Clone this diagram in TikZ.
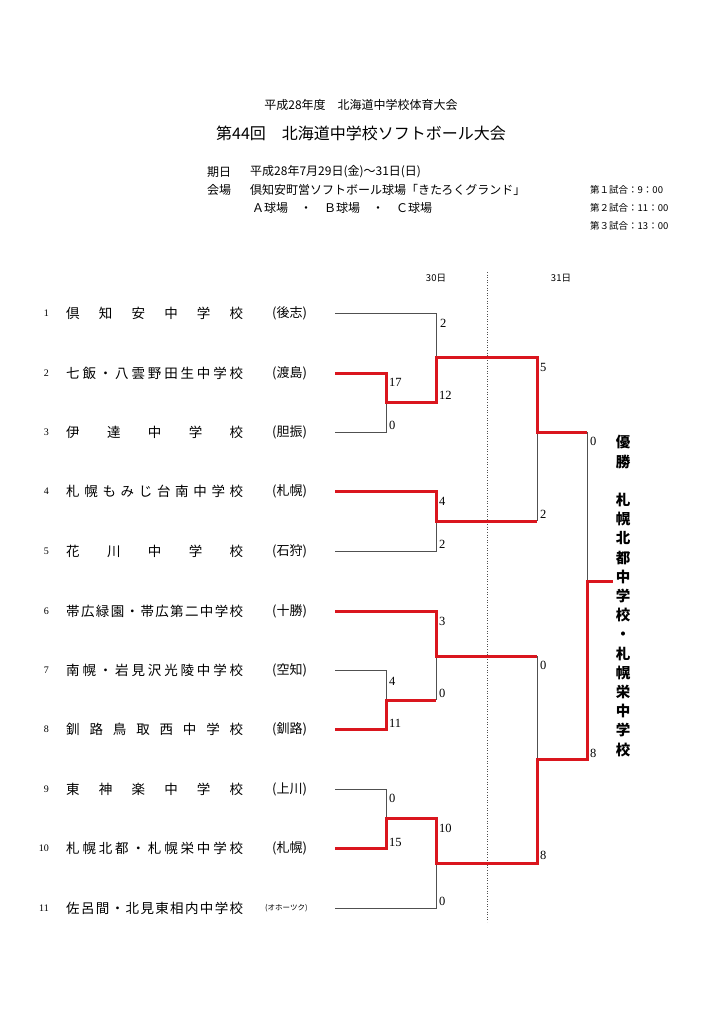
\documentclass[tikz,border=0pt]{standalone}
\usepackage{fontspec}
\newfontfamily\jp{Noto Sans CJK JP}
\newfontfamily\sr{Liberation Serif}
\definecolor{winred}{RGB}{218,22,30}
\definecolor{lgray}{RGB}{80,80,80}
\begin{document}
\begin{tikzpicture}[x=1pt,y=-1pt,
  gline/.style={draw=lgray,line width=0.9pt},
  rline/.style={draw=winred,line width=3pt},
  score/.style={anchor=west,inner sep=0pt,font=\sr\fontsize{12.5}{13}\selectfont},
  tname/.style={anchor=west,inner sep=0pt,font=\jp\fontsize{13.5}{14}\selectfont},
  treg/.style={anchor=west,inner sep=0pt,font=\jp\fontsize{13}{14}\selectfont},
  tnum/.style={anchor=east,inner sep=0pt,font=\sr\fontsize{10}{11}\selectfont},
  hdr/.style={anchor=west,inner sep=0pt,font=\jp\fontsize{12}{13}\selectfont},
  sched/.style={anchor=west,inner sep=0pt,font=\jp\fontsize{9.5}{10}\selectfont}]
\useasboundingbox[fill=white] (0,0) rectangle (724,1024);

% header
\node[inner sep=0pt,font=\jp\fontsize{12}{13}\selectfont] (h1) at (361,105) {平成28年度　北海道中学校体育大会};
\node[inner sep=0pt,font=\jp\fontsize{16}{17}\selectfont] (h2) at (361,133) {第44回　北海道中学校ソフトボール大会};
\node[hdr] (d1) at (207,172) {期日};
\node[hdr] (d2) at (250,172) {平成28年7月29日(金)～31日(日)};
\node[hdr] (v1) at (207,190) {会場};
\node[hdr] (v2) at (250,190) {倶知安町営ソフトボール球場「きたろくグランド」};
\node[hdr] (v3) at (252,208) {Ａ球場　・　Ｂ球場　・　Ｃ球場};
\node[sched] (g1) at (590,190) {第１試合：9：00};
\node[sched] (g2) at (590,208) {第２試合：11：00};
\node[sched] (g3) at (590,226) {第３試合：13：00};
\node[inner sep=0pt,font=\jp\fontsize{9.5}{10}\selectfont] (day30) at (436,278) {30日};
\node[inner sep=0pt,font=\jp\fontsize{9.5}{10}\selectfont] (day31) at (561,278) {31日};

% teams
\foreach \n/\y/\name/\reg in {
 1/313/{倶\hfill 知\hfill 安\hfill 中\hfill 学\hfill 校}/{(後志)},
 2/373/{七\hfill 飯\hfill ・\hfill 八\hfill 雲\hfill 野\hfill 田\hfill 生\hfill 中\hfill 学\hfill 校}/{(渡島)},
 3/432/{伊\hfill 達\hfill 中\hfill 学\hfill 校}/{(胆振)},
 4/491/{札\hfill 幌\hfill も\hfill み\hfill じ\hfill 台\hfill 南\hfill 中\hfill 学\hfill 校}/{(札幌)},
 5/551/{花\hfill 川\hfill 中\hfill 学\hfill 校}/{(石狩)},
 6/611/{帯\hfill 広\hfill 緑\hfill 園\hfill ・\hfill 帯\hfill 広\hfill 第\hfill 二\hfill 中\hfill 学\hfill 校}/{(十勝)},
 7/670/{南\hfill 幌\hfill ・\hfill 岩\hfill 見\hfill 沢\hfill 光\hfill 陵\hfill 中\hfill 学\hfill 校}/{(空知)},
 8/729/{釧\hfill 路\hfill 鳥\hfill 取\hfill 西\hfill 中\hfill 学\hfill 校}/{(釧路)},
 9/789/{東\hfill 神\hfill 楽\hfill 中\hfill 学\hfill 校}/{(上川)},
 10/848/{札\hfill 幌\hfill 北\hfill 都\hfill ・\hfill 札\hfill 幌\hfill 栄\hfill 中\hfill 学\hfill 校}/{(札幌)}}
{
  \node[tnum] (num\n) at (49,\y) {\n};
  \node[tname] (name\n) at (66,\y) {\makebox[177pt][s]{\name}};
  \node[treg] (reg\n) at (272,\y) {\reg};
  \coordinate (s\n) at (335,\y);
}
\node[tnum] (num11) at (49,908) {11};
\node[tname] (name11) at (66,908) {\makebox[177pt][s]{佐\hfill 呂\hfill 間\hfill ・\hfill 北\hfill 見\hfill 東\hfill 相\hfill 内\hfill 中\hfill 学\hfill 校}};
\node[anchor=west,inner sep=0pt,font=\jp\fontsize{7.5}{8}\selectfont] (reg11) at (265,908) {(オホーツク)};
\coordinate (s11) at (335,908);

% bracket points
\coordinate (e1) at (436,313);
\coordinate (e2) at (386,373);
\coordinate (e3) at (386,432);
\coordinate (e4) at (436,491);
\coordinate (e5) at (436,551);
\coordinate (e6) at (436,611);
\coordinate (e7) at (386,670);
\coordinate (e8) at (386,729);
\coordinate (e9) at (386,789);
\coordinate (e10) at (386,848);
\coordinate (e11) at (436,908);
\coordinate (j23) at (386,402);
\coordinate (j23b) at (436,402);
\coordinate (j123) at (436,357);
\coordinate (k1) at (537,357);
\coordinate (j45) at (436,521);
\coordinate (k2) at (537,521);
\coordinate (js1) at (537,432);
\coordinate (f1) at (587,432);
\coordinate (j78) at (386,700);
\coordinate (j78b) at (436,700);
\coordinate (j678) at (436,656);
\coordinate (k3) at (537,656);
\coordinate (j910) at (386,818);
\coordinate (j910b) at (436,818);
\coordinate (j91011) at (436,863);
\coordinate (k4) at (537,863);
\coordinate (js2) at (537,759);
\coordinate (f2) at (587,759);
\coordinate (jf) at (587,581);
\coordinate (win) at (613,581);
\coordinate (dt) at (487,272);
\coordinate (db) at (487,922);

\draw[lgray,line width=0.6pt,dotted] (dt) -- (db);

% losers / gray
\draw[gline] (s1) -- (e1) -- (j123);
\draw[gline] (s3) -- (e3) -- (j23);
\draw[gline] (s5) -- (e5) -- (j45);
\draw[gline] (js1) -- (k2);
\draw[gline] (f1) -- (jf);
\draw[gline] (s7) -- (e7) -- (j78);
\draw[gline] (j678) -- (j78b);
\draw[gline] (k3) -- (js2);
\draw[gline] (s9) -- (e9) -- (j910);
\draw[gline] (j91011) -- (e11) -- (s11);

% winners / red
\draw[rline] (s2) -- (e2) -- (j23) -- (j23b) -- (j123) -- (k1) -- (js1) -- (f1);
\draw[rline] (s4) -- (e4) -- (j45) -- (k2);
\draw[rline] (s6) -- (e6) -- (j678) -- (k3);
\draw[rline] (s8) -- (e8) -- (j78) -- (j78b);
\draw[rline] (s10) -- (e10) -- (j910) -- (j910b) -- (j91011) -- (k4) -- (js2) -- (f2) -- (jf) -- (win);

% scores
\node[score] (sc1) at (440,323) {2};
\node[score] (sc2) at (389,382) {17};
\node[score] (sc3) at (389,425) {0};
\node[score] (sc4) at (439,395) {12};
\node[score] (sc5) at (540,367) {5};
\node[score] (sc6) at (540,514) {2};
\node[score] (sc7) at (439,501) {4};
\node[score] (sc8) at (439,544) {2};
\node[score] (sc9) at (590,441) {0};
\node[score] (sc10) at (590,753) {8};
\node[score] (sc11) at (439,621) {3};
\node[score] (sc12) at (439,693) {0};
\node[score] (sc13) at (389,681) {4};
\node[score] (sc14) at (389,723) {11};
\node[score] (sc15) at (540,665) {0};
\node[score] (sc16) at (540,855) {8};
\node[score] (sc17) at (389,798) {0};
\node[score] (sc18) at (389,842) {15};
\node[score] (sc19) at (439,828) {10};
\node[score] (sc20) at (439,901) {0};

% champion
\node[inner sep=0pt,align=center,font=\jp\bfseries\fontsize{14.5}{19.2}\selectfont] (champ) at (623,596)
 {優\\勝\\\mbox{}\\札\\幌\\北\\都\\中\\学\\校\\・\\札\\幌\\栄\\中\\学\\校};
\end{tikzpicture}
\end{document}
